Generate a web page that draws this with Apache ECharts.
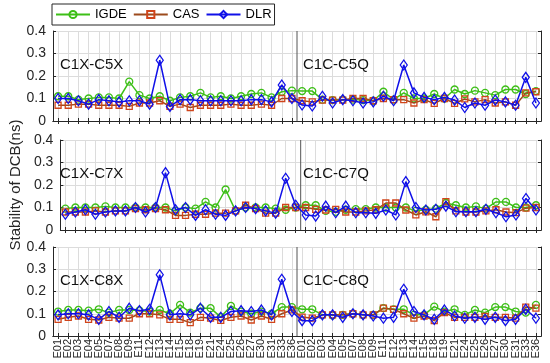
<!DOCTYPE html>
<html><head><meta charset="utf-8">
<script src="https://cdn.jsdelivr.net/npm/echarts@6/dist/echarts.min.js"></script>
<style>html,body{margin:0;padding:0;background:#fff}#c{width:550px;height:363px}</style>
</head><body><div id="c"></div>
<script>
const cats = ['E01','E02','E03','E04','E05','E07','E08','E09','E11','E12','E13','E14','E15','E18','E19','E21','E24','E25','E26','E27','E30','E31','E33','E36'];
const xCats = cats.concat(cats);
const panelNames = ['C1X-C5X','C1X-C7X','C1X-C8X'];
const panelNames2 = ['C1C-C5Q','C1C-C7Q','C1C-C8Q'];
const seriesNames = ['IGDE','CAS','DLR'];
const yTicks = [0, 0.1, 0.2, 0.3, 0.4];

// Panel 1: C1X-C5X | C1C-C5Q
const c5_IGDE = [0.11,0.11,0.095,0.10,0.105,0.105,0.10,0.175,0.115,0.10,0.11,0.09,0.105,0.11,0.125,0.105,0.11,0.10,0.11,0.12,0.125,0.105,0.13,0.135,
                 0.133,0.133,0.095,0.093,0.095,0.095,0.093,0.09,0.13,0.095,0.125,0.10,0.10,0.12,0.10,0.14,0.12,0.135,0.125,0.115,0.14,0.14,0.12,0.133];
const c5_CAS  = [0.07,0.07,0.075,0.075,0.07,0.07,0.07,0.065,0.08,0.08,0.09,0.065,0.075,0.06,0.07,0.07,0.07,0.075,0.07,0.07,0.075,0.07,0.10,0.10,
                 0.09,0.085,0.093,0.093,0.093,0.10,0.10,0.09,0.10,0.095,0.095,0.08,0.095,0.078,0.10,0.078,0.098,0.085,0.095,0.08,0.085,0.07,0.125,0.13];
const c5_DLR  = [0.10,0.10,0.09,0.075,0.095,0.09,0.085,0.09,0.09,0.075,0.27,0.065,0.095,0.095,0.09,0.09,0.09,0.09,0.09,0.095,0.095,0.085,0.16,0.10,
                 0.071,0.067,0.11,0.08,0.095,0.09,0.08,0.085,0.11,0.09,0.249,0.125,0.105,0.095,0.105,0.093,0.06,0.08,0.07,0.093,0.085,0.07,0.194,0.08];
// Panel 2: C1X-C7X | C1C-C7Q
const c7_IGDE = [0.095,0.10,0.10,0.10,0.105,0.10,0.10,0.10,0.10,0.10,0.10,0.085,0.10,0.095,0.125,0.10,0.18,0.085,0.10,0.10,0.10,0.095,0.09,0.10,
                 0.11,0.11,0.085,0.081,0.09,0.093,0.093,0.10,0.10,0.10,0.10,0.085,0.09,0.095,0.12,0.11,0.10,0.105,0.095,0.125,0.125,0.10,0.10,0.11];
const c7_CAS  = [0.08,0.08,0.08,0.085,0.08,0.085,0.085,0.095,0.09,0.095,0.09,0.065,0.065,0.07,0.07,0.075,0.075,0.085,0.11,0.095,0.075,0.075,0.10,0.10,
                 0.10,0.092,0.089,0.092,0.08,0.08,0.085,0.09,0.12,0.12,0.089,0.067,0.081,0.059,0.126,0.085,0.08,0.08,0.085,0.09,0.08,0.077,0.097,0.10];
const c7_DLR  = [0.07,0.08,0.09,0.07,0.08,0.085,0.085,0.10,0.08,0.10,0.255,0.09,0.10,0.065,0.09,0.07,0.065,0.085,0.10,0.095,0.085,0.075,0.23,0.11,
                 0.067,0.062,0.106,0.077,0.106,0.077,0.077,0.074,0.089,0.067,0.215,0.10,0.089,0.092,0.106,0.081,0.081,0.081,0.092,0.077,0.059,0.067,0.14,0.089];
// Panel 3: C1X-C8X | C1C-C8Q
const c8_IGDE = [0.11,0.117,0.117,0.114,0.12,0.105,0.117,0.117,0.115,0.11,0.117,0.10,0.14,0.105,0.125,0.125,0.085,0.135,0.11,0.10,0.11,0.10,0.13,0.13,
                 0.12,0.12,0.095,0.093,0.095,0.10,0.095,0.095,0.125,0.12,0.12,0.095,0.095,0.132,0.11,0.12,0.095,0.117,0.105,0.13,0.13,0.11,0.105,0.14];
const c8_CAS  = [0.075,0.084,0.09,0.075,0.072,0.084,0.08,0.08,0.10,0.10,0.095,0.075,0.075,0.06,0.084,0.08,0.07,0.084,0.09,0.072,0.09,0.075,0.10,0.117,
                 0.085,0.08,0.095,0.095,0.095,0.10,0.095,0.095,0.125,0.12,0.10,0.08,0.09,0.069,0.105,0.084,0.084,0.084,0.088,0.084,0.084,0.08,0.13,0.125];
const c8_DLR  = [0.095,0.10,0.10,0.095,0.075,0.11,0.084,0.125,0.114,0.12,0.275,0.095,0.10,0.095,0.125,0.084,0.084,0.11,0.114,0.11,0.117,0.095,0.255,0.11,
                 0.069,0.069,0.095,0.095,0.084,0.10,0.095,0.09,0.08,0.084,0.21,0.11,0.095,0.075,0.117,0.09,0.08,0.084,0.075,0.084,0.069,0.075,0.12,0.08];

const panels = [[c5_IGDE,c5_CAS,c5_DLR],[c7_IGDE,c7_CAS,c7_DLR],[c8_IGDE,c8_CAS,c8_DLR]];

const styles = [
  {line:'#3dbf17', edge:'#3dbf17', symbol:'circle', size:7},
  {line:'#9c4a1c', edge:'#d0451b', symbol:'rect', size:6},
  {line:'#1010e8', edge:'#1010e8', symbol:'diamond', size:[7,10]}
];
const axisCol = '#262626';
const gridCol = '#dcdcdc';
const font = 'Liberation Sans, Arial, sans-serif';

const grids = [
  {left:53, top:31, width:488, height:90},
  {left:53, top:140, width:488, height:90},
  {left:53, top:247, width:488, height:89}
];

const xAxis = [], yAxis = [], series = [], graphic = [];
grids.forEach((g, gi) => {
  const last = gi === grids.length - 1;
  xAxis.push({
    type:'category', gridIndex:gi, data:xCats, boundaryGap:true, position:'bottom',
    axisLine:{show:true, lineStyle:{color:axisCol, width:1}},
    axisTick:{show:true, inside:true, length:3, alignWithLabel:true, interval:0, lineStyle:{color:axisCol}},
    axisLabel:{show:last, rotate:90, interval:0, fontSize:11, color:axisCol, fontFamily:font, margin:3},
    splitLine:{show:true, alignWithLabel:true, interval:0, lineStyle:{color:gridCol, width:1}}
  });
  xAxis.push({
    type:'category', gridIndex:gi, data:xCats, boundaryGap:true, position:'top',
    axisLine:{show:true, lineStyle:{color:axisCol, width:1}},
    axisTick:{show:true, inside:true, length:3, alignWithLabel:true, interval:0, lineStyle:{color:axisCol}},
    axisLabel:{show:false}, splitLine:{show:false}
  });
  xAxis.push({
    type:'value', gridIndex:gi, min:0, max:xCats.length, show:false
  });
  yAxis.push({
    type:'value', gridIndex:gi, min:yTicks[0], max:yTicks[yTicks.length-1], interval:0.1, position:'left',
    name: gi === 1 ? 'Stability of DCB(ns)' : '', nameLocation:'middle', nameGap:35,
    nameTextStyle:{fontSize:15, color:axisCol, fontFamily:font},
    axisLine:{show:true, lineStyle:{color:axisCol, width:1}},
    axisTick:{show:true, inside:true, length:3, lineStyle:{color:axisCol}},
    axisLabel:{fontSize:14, color:axisCol, fontFamily:font, margin:7,
      formatter: v => v === 0 ? '0' : v.toFixed(1)},
    splitLine:{show:true, lineStyle:{color:gridCol, width:1}}
  });
  yAxis.push({
    type:'value', gridIndex:gi, min:yTicks[0], max:yTicks[yTicks.length-1], interval:0.1, position:'right',
    axisLine:{show:true, lineStyle:{color:axisCol, width:1}},
    axisTick:{show:true, inside:true, length:3, lineStyle:{color:axisCol}},
    axisLabel:{show:false}, splitLine:{show:false}
  });
  // separator between the two halves
  series.push({
    type:'line', xAxisIndex:gi*3+2, yAxisIndex:gi*2, silent:true, symbol:'none',
    data:[[cats.length, yTicks[0]],[cats.length, yTicks[yTicks.length-1]]],
    lineStyle:{color:'#555555', width:1}, z:1
  });
  panels[gi].forEach((vals, si) => {
    const s = styles[si];
    series.push({
      name:seriesNames[si], type:'line', xAxisIndex:gi*3, yAxisIndex:gi*2,
      data:vals, symbol:s.symbol, symbolSize:s.size, showAllSymbol:true,
      lineStyle:{color:s.line, width:1.5},
      itemStyle:{color:'rgba(255,255,255,0)', borderColor:s.edge, borderWidth:1.3},
      emphasis:{disabled:true}, animation:false, z:2+si
    });
  });
  graphic.push({type:'text', left:60, top:g.top + 26, z:10, style:{text:panelNames[gi], fontSize:15, fill:'#111', fontFamily:font}});
  graphic.push({type:'text', left:303, top:g.top + 26, z:10, style:{text:panelNames2[gi], fontSize:15, fill:'#111', fontFamily:font}});
});

const chart = echarts.init(document.getElementById('c'), null, {renderer:'canvas'});
chart.setOption({
  animation:false,
  backgroundColor:'#ffffff',
  grid:grids,
  xAxis, yAxis, series, graphic,
  legend:{
    data:seriesNames, left:52, top:4, orient:'horizontal',
    itemWidth:34, itemHeight:9, itemGap:6,
    padding:[4,3,4,3],
    borderColor:axisCol, borderWidth:1, backgroundColor:'#fff',
    textStyle:{fontSize:13, color:'#000', fontFamily:font}
  }
});
</script></body></html>
